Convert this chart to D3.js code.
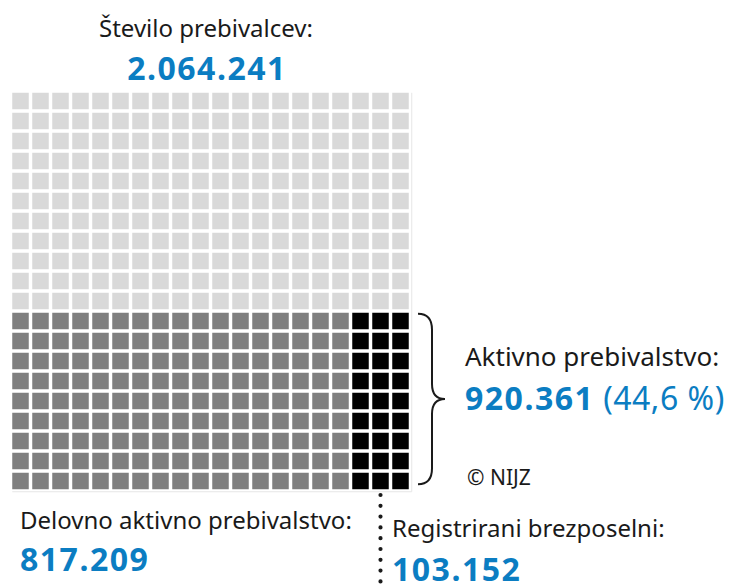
<!DOCTYPE html>
<html>
<head>
<meta charset="utf-8">
<script src="https://cdn.jsdelivr.net/npm/d3@7"></script>
<style>
  body { margin: 0; background: #fff; }
  text { font-family: "Noto Sans", "Open Sans", sans-serif; }
</style>
</head>
<body>
<div id="waffle"></div>
<script>
// WAFFLE CHART - prebivalstvo

const FRAME_WIDTH = 729;
const FRAME_HEIGHT = 584;

// data
const categories = ["Neaktivno prebivalstvo", "Delovno aktivno prebivalstvo", "Registrirani brezposelni"];
const cellCounts = [220, 153, 27];   // 400 cells total
const colors = ["#d9d9d9", "#7f7f7f", "#000000"];
const labels = ["Število prebivalcev:", "Aktivno prebivalstvo:", "Delovno aktivno prebivalstvo:", "Registrirani brezposelni:"];
const values = ["2.064.241", "920.361", "817.209", "103.152"];
const shareText = "(44,6 %)";
const GRID = 20;

const BLUE = "#0b7dc2";
const INK = "#1a1a1a";
const NUM_SIZE = 32;
const NUM_LS = 1.5;

const FRAME1 = d3.select("#waffle")
                  .append("svg")
                    .attr("width", FRAME_WIDTH)
                    .attr("height", FRAME_HEIGHT);

const xScale = d3.scaleBand()
    .domain(d3.range(GRID))
    .range([10.5, 410.5])
    .paddingInner(0.175)
    .paddingOuter(0.0875);

const yScale = d3.scaleBand()
    .domain(d3.range(GRID))
    .range([91, 491])
    .paddingInner(0.175)
    .paddingOuter(0.0875);

// build cells: inactive fills from the top, active block at the bottom filled column by column
const activeCount = cellCounts[1] + cellCounts[2];
const activeRows = activeCount / GRID;
const firstActiveRow = GRID - activeRows;
const cells = [];
for (let r = 0; r < GRID; r++) {
    for (let c = 0; c < GRID; c++) {
        let cat = 0;
        if (r >= firstActiveRow) {
            const idx = c * activeRows + (r - firstActiveRow);
            cat = idx < cellCounts[1] ? 1 : 2;
        }
        cells.push({row: r, col: c, cat: cat});
    }
}

// light frame on right and bottom
FRAME1.append("path")
    .attr("d", "M" + xScale(0) + "," + (yScale(GRID - 1) + yScale.bandwidth() + 2.5) +
               "H" + (xScale(GRID - 1) + xScale.bandwidth() + 3) +
               "V" + yScale(0))
    .attr("fill", "none")
    .attr("stroke", "#e6e6e6")
    .attr("stroke-width", 1);

FRAME1.append("g")
    .selectAll("rect")
    .data(cells)
    .enter()
    .append("rect")
      .attr("x", d => xScale(d.col))
      .attr("y", d => yScale(d.row))
      .attr("width", xScale.bandwidth())
      .attr("height", yScale.bandwidth())
      .attr("fill", d => colors[d.cat]);

// curly brace next to the active rows
const bTop = yScale(firstActiveRow) + 1;
const bBot = yScale(GRID - 1) + yScale.bandwidth() - 5;
const bMid = (bTop + bBot) / 2;
const bx0 = 418, bx1 = 432, bx2 = 445;
const brace = d3.path();
brace.moveTo(bx0, bTop);
brace.quadraticCurveTo(bx1, bTop, bx1, bTop + 16);
brace.lineTo(bx1, bMid - 15);
brace.quadraticCurveTo(bx1, bMid, bx2, bMid);
brace.quadraticCurveTo(bx1, bMid, bx1, bMid + 15);
brace.lineTo(bx1, bBot - 16);
brace.quadraticCurveTo(bx1, bBot, bx0, bBot);
FRAME1.append("path")
    .attr("d", brace.toString())
    .attr("fill", "none")
    .attr("stroke", INK)
    .attr("stroke-width", 2);

// dotted leader under the unemployed column
const dotX = xScale(GRID - 2) + xScale.bandwidth() / 2;
FRAME1.append("line")
    .attr("x1", dotX).attr("x2", dotX)
    .attr("y1", 495).attr("y2", 590)
    .attr("stroke", INK)
    .attr("stroke-width", 4.2)
    .attr("stroke-linecap", "round")
    .attr("stroke-dasharray", "0 10.8");

function numberText(x, y, txt, anchor) {
    return FRAME1.append("text")
        .attr("x", x).attr("y", y)
        .attr("text-anchor", anchor || "start")
        .attr("font-size", NUM_SIZE)
        .attr("font-weight", "bold")
        .attr("letter-spacing", NUM_LS)
        .attr("fill", BLUE)
        .text(txt);
}

// title
FRAME1.append("text")
    .attr("x", 206).attr("y", 37)
    .attr("text-anchor", "middle")
    .attr("font-size", 24)
    .attr("fill", INK)
    .text(labels[0]);

numberText(207, 80, values[0], "middle");

// active
FRAME1.append("text")
    .attr("x", 465).attr("y", 366)
    .attr("font-size", 26)
    .attr("fill", INK)
    .text(labels[1]);

const active = numberText(465, 410, values[1]);
active.append("tspan")
    .attr("font-weight", "normal")
    .attr("letter-spacing", 0.5)
    .text(" " + shareText);

FRAME1.append("text")
    .attr("x", 467).attr("y", 485)
    .attr("font-size", 21)
    .attr("fill", INK)
    .text("© NIJZ");

// working active
FRAME1.append("text")
    .attr("x", 20).attr("y", 529)
    .attr("font-size", 24)
    .attr("fill", INK)
    .text(labels[2]);

numberText(20, 571, values[2]);

// unemployed
FRAME1.append("text")
    .attr("x", 392).attr("y", 537)
    .attr("font-size", 24)
    .attr("fill", INK)
    .text(labels[3]);

numberText(392, 581, values[3]);
</script>
</body>
</html>
